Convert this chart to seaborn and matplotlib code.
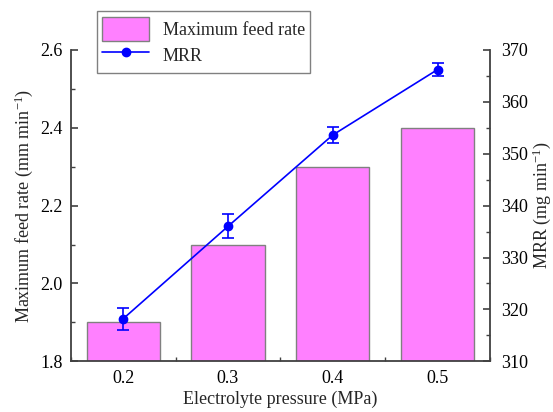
import matplotlib
matplotlib.use("Agg")
import matplotlib.pyplot as plt
import seaborn as sns
import pandas as pd
from matplotlib.patches import Patch
from matplotlib.lines import Line2D
from matplotlib.ticker import MultipleLocator

pressure = [0.2, 0.3, 0.4, 0.5]
feed_rate = [1.9, 2.1, 2.3, 2.4]
mrr = [318.2, 336.0, 353.6, 366.2]
mrr_err = [2.1, 2.3, 1.5, 1.2]

sns.set_theme(style="ticks")
plt.rcParams["font.family"] = ["Liberation Serif", "DejaVu Serif"]
plt.rcParams["mathtext.fontset"] = "custom"
plt.rcParams["mathtext.rm"] = "Liberation Serif"
plt.rcParams["mathtext.default"] = "regular"

spine_c = "#404040"
fs = 13

fig = plt.figure(figsize=(5.53, 4.12), dpi=100)
ax = fig.add_axes([0.128, 0.123, 0.758, 0.756])
df = pd.DataFrame({"p": pressure, "f": feed_rate})
sns.barplot(data=df, x="p", y="f", native_scale=True, width=0.7,
            color="#FF80FF", saturation=1, edgecolor="#808080", linewidth=1.0, ax=ax)
ax.set_xlim(0.15, 0.55)
ax.set_ylim(1.8, 2.6)
ax.set_xticks(pressure)
ax.set_xticklabels([f"{v:.1f}" for v in pressure])
ax.set_yticks([1.8, 2.0, 2.2, 2.4, 2.6])
ax.set_yticklabels(["1.8", "2.0", "2.2", "2.4", "2.6"])
ax.xaxis.set_minor_locator(MultipleLocator(0.05))
ax.yaxis.set_minor_locator(MultipleLocator(0.1))
ax.set_xlabel("Electrolyte pressure (MPa)", fontsize=fs, labelpad=3)
ax.set_ylabel("Maximum feed rate (mm min$^{-1}$)", fontsize=fs, labelpad=4)

ax2 = ax.twinx()
ax2.errorbar(pressure, mrr, yerr=mrr_err, color="#0000FF", marker="o", markersize=6,
             linewidth=1.2, capsize=4, elinewidth=1.2, capthick=1.2, zorder=5)
ax2.set_ylim(310, 370)
ax2.set_yticks([310, 320, 330, 340, 350, 360, 370])
ax2.yaxis.set_minor_locator(MultipleLocator(5))
ax2.set_ylabel("MRR (mg min$^{-1}$)", fontsize=fs, labelpad=2)

for a in (ax, ax2):
    a.spines["top"].set_visible(False)
    for s in ("left", "right", "bottom"):
        a.spines[s].set_color(spine_c)
        a.spines[s].set_linewidth(1.3)
    a.tick_params(which="major", direction="in", length=5, width=1.2, color=spine_c,
                  labelsize=fs, labelcolor="black", pad=6)
    a.tick_params(which="minor", direction="in", length=3, width=1.0, color=spine_c)
ax2.tick_params(axis="y", which="major", pad=8)
ax.spines["right"].set_visible(False)
ax2.spines["left"].set_visible(False)
ax2.spines["bottom"].set_visible(False)
ax.tick_params(axis="y", which="both", right=False)
ax.tick_params(axis="x", which="both", top=False)

handles = [Patch(facecolor="#FF80FF", edgecolor="#808080", linewidth=1.0),
           Line2D([], [], color="#0000FF", marker="o", markersize=6, linewidth=1.2)]
leg = fig.legend(handles, ["Maximum feed rate", "MRR"], loc="upper left",
                 bbox_to_anchor=(0.175, 0.973), borderaxespad=0, fontsize=fs, frameon=True,
                 fancybox=False, edgecolor="#606060", handlelength=2.6,
                 handleheight=1.7, labelspacing=0.1, borderpad=0.3, handletextpad=0.75)
leg.get_frame().set_linewidth(1.0)

fig.savefig("out.png", dpi=100)
